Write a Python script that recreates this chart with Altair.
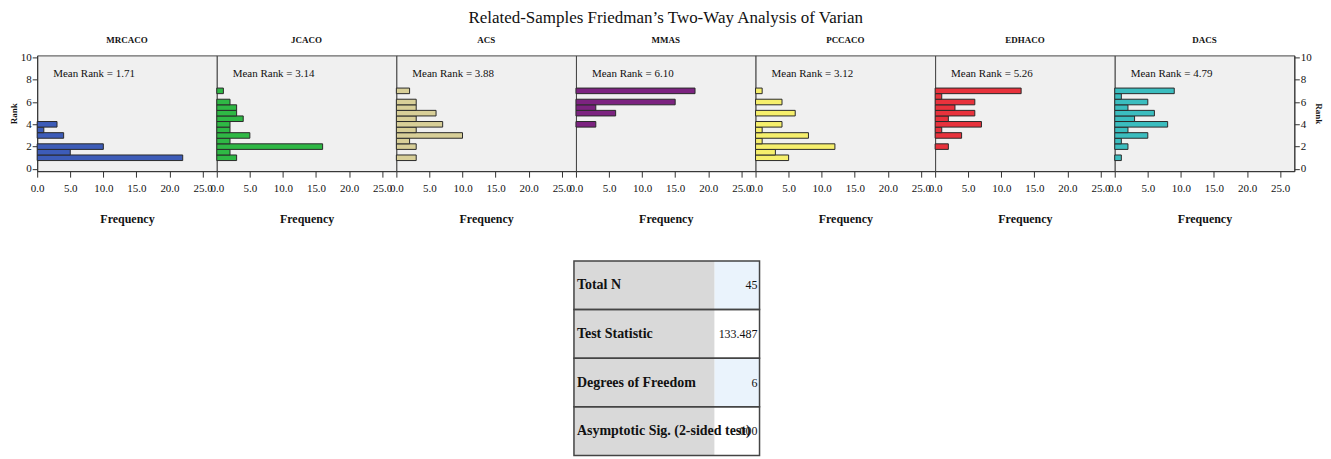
import altair as alt
import pandas as pd

FONT = "Liberation Serif, Times New Roman, serif"

# ---------------- data ----------------
algorithms = ["MRCACO", "JCACO", "ACS", "MMAS", "PCCACO", "EDHACO", "DACS"]
rank_values = [1.0, 1.5, 2.0, 2.5, 3.0, 3.5, 4.0, 4.5, 5.0, 5.5, 6.0, 6.5, 7.0]
freq_mrcaco = [22, 5, 10, 0, 4, 1, 3, 0, 0, 0, 0, 0, 0]
freq_jcaco = [3, 2, 16, 2, 5, 2, 2, 4, 3, 3, 2, 0, 1]
freq_acs = [3, 0, 3, 2, 10, 3, 7, 3, 6, 3, 3, 0, 2]
freq_mmas = [0, 0, 0, 0, 0, 0, 3, 0, 6, 3, 15, 0, 18]
freq_pccaco = [5, 3, 12, 1, 8, 1, 4, 0, 6, 0, 4, 0, 1]
freq_edhaco = [0, 0, 2, 0, 4, 1, 7, 2, 6, 3, 6, 1, 13]
freq_dacs = [1, 0, 2, 1, 5, 2, 8, 3, 6, 2, 5, 1, 9]
mean_rank_labels = ["1.71", "3.14", "3.88", "6.10", "3.12", "5.26", "4.79"]
bar_colors = ["#3d5cb8", "#2fb845", "#d8cf98", "#7c2380", "#f6ef6c", "#e8323c", "#3bbdbf"]
x_ticks = [0, 5, 10, 15, 20, 25]
y_ticks = [0, 2, 4, 6, 8, 10]

stat_labels = ["Total N", "Test Statistic", "Degrees of Freedom", "Asymptotic Sig. (2-sided test)"]
stat_values = ["45", "133.487", "6", ".000"]
value_cell_colors = ["#eaf3fc", "#ffffff", "#eaf3fc", "#ffffff"]

title_text = "Related-Samples Friedman\u2019s Two-Way Analysis of Varian"

freqs = [freq_mrcaco, freq_jcaco, freq_acs, freq_mmas, freq_pccaco, freq_edhaco, freq_dacs]

PANEL_W = 180
PANEL_H = 116


def y_axis(orient):
    return alt.Axis(values=y_ticks, format="d", title="Rank", orient=orient,
                    grid=False, tickSize=5, labelPadding=1, labelFontSize=11,
                    titleFontSize=9, titleFontWeight="bold", titlePadding=2,
                    domainColor="#333", tickColor="#333", labelColor="#111",
                    titleColor="#111", labelFont=FONT, titleFont=FONT)


def panel(i):
    df = pd.DataFrame({"rank": rank_values, "freq": freqs[i]})
    if i == 0:
        yax = y_axis("left")
    elif i == len(algorithms) - 1:
        yax = y_axis("right")
    else:
        yax = None
    bars = (
        alt.Chart(df)
        .transform_filter("datum.freq > 0")
        .transform_calculate(lo="datum.rank - 0.25", hi="datum.rank + 0.25")
        .mark_bar(color=bar_colors[i], stroke="#2a2a2a", strokeWidth=1)
        .encode(
            x=alt.X("freq:Q", scale=alt.Scale(domain=[0, 27.15], nice=False),
                    axis=alt.Axis(values=x_ticks, format=".1f", title="Frequency",
                                  labelFlush=False, labelOverlap=False, grid=False,
                                  tickSize=6, labelPadding=5, labelFontSize=11,
                                  titleFontSize=12, titleFontWeight="bold",
                                  titlePadding=20, domainColor="#333",
                                  tickColor="#333", labelColor="#111",
                                  titleColor="#111",
                                  labelFont=FONT, titleFont=FONT)),
            x2=alt.datum(0),
            y=alt.Y("lo:Q", scale=alt.Scale(domain=[-0.2, 10.18], nice=False, zero=False),
                    axis=yax),
            y2="hi:Q",
        )
    )
    label = (
        alt.Chart(pd.DataFrame({"t": ["Mean Rank = " + mean_rank_labels[i]]}))
        .mark_text(align="left", baseline="middle", font=FONT, fontSize=11, color="#111")
        .encode(x=alt.value(16), y=alt.value(19), text="t:N")
    )
    name = (
        alt.Chart(pd.DataFrame({"n": [algorithms[i]]}))
        .mark_text(align="center", baseline="middle", font=FONT, fontSize=9,
                   fontWeight="bold", color="#111")
        .encode(x=alt.value(PANEL_W / 2), y=alt.value(-15), text="n:N")
    )
    return alt.layer(bars, label, name).properties(width=PANEL_W, height=PANEL_H)


panels = alt.hconcat(*[panel(i) for i in range(len(algorithms))], spacing=0, bounds="flush")

# ---------------- table ----------------
tbl = pd.DataFrame({"stat": stat_labels, "val": stat_values})
row_y = alt.Y("stat:N", sort=stat_labels, axis=None,
              scale=alt.Scale(paddingInner=0, paddingOuter=0))
TBL_W = 186
LAB_W = 141

lab_fill = alt.Chart(tbl).mark_rect(fill="#d9d9d9").encode(
    y=row_y, x=alt.value(0), x2=alt.value(LAB_W))
val_fill = alt.Chart(tbl).mark_rect().encode(
    y=row_y, x=alt.value(LAB_W), x2=alt.value(TBL_W),
    color=alt.Color("stat:N", scale=alt.Scale(domain=stat_labels, range=value_cell_colors),
                    legend=None))
borders = alt.Chart(tbl).mark_rect(fillOpacity=0, stroke="#444", strokeWidth=1.5).encode(
    y=row_y, x=alt.value(0), x2=alt.value(TBL_W))
lab_text = alt.Chart(tbl).mark_text(align="left", baseline="middle", font=FONT,
                                    fontSize=14, fontWeight="bold", color="#111").encode(
    y=row_y, x=alt.value(3), text="stat:N")
val_text = alt.Chart(tbl).mark_text(align="right", baseline="middle", font=FONT,
                                    fontSize=12, color="#111").encode(
    y=row_y, x=alt.value(TBL_W - 2), text="val:N")

table = alt.layer(lab_fill, val_fill, borders, lab_text, val_text).properties(
    width=TBL_W + 26, height=195,
    view=alt.ViewBackground(fill="transparent", stroke="transparent"),
)

chart = (
    alt.vconcat(panels, table, spacing=34, center=True)
    .properties(
        title=alt.TitleParams(title_text, font=FONT, fontSize=17, fontWeight="normal",
                              anchor="middle", offset=9, color="#111"),
        background="white",
        padding={"left": 0, "top": 0, "right": 0, "bottom": 0},
    )
    .configure_view(fill="#f0f0f0", stroke="#444", strokeWidth=1)
    .configure_concat(spacing=0)
)

chart.save("out.html", embed_options={"renderer": "svg", "actions": False})
